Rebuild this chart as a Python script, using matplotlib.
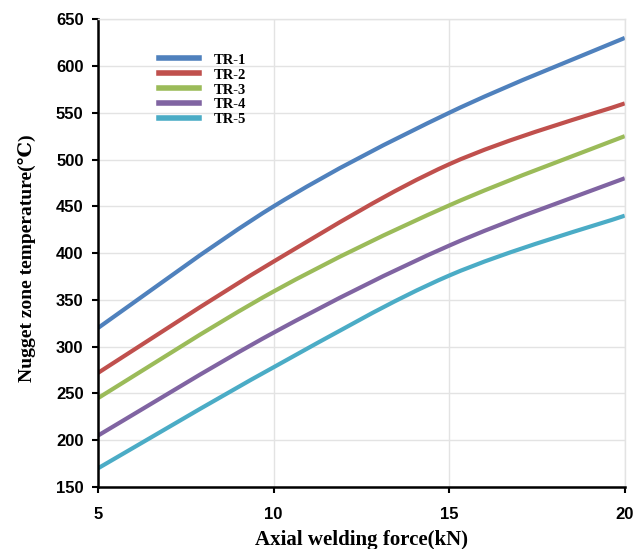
import numpy as np
import matplotlib.pyplot as plt
from matplotlib.path import Path
from matplotlib.patches import PathPatch
from matplotlib.lines import Line2D

# axial force (kN) and nugget zone temperature (deg C) for each tool rotation
force = [5, 10, 15, 20]
tr1 = [320, 450, 550, 630]
tr2 = [272, 391, 495, 560]
tr3 = [245, 359, 451, 525]
tr4 = [205, 315, 408, 480]
tr5 = [170, 278, 376, 440]

labels = ["TR-1", "TR-2", "TR-3", "TR-4", "TR-5"]
colors = ["#4F81BD", "#C0504D", "#9BBB59", "#8064A2", "#4BACC6"]


def smooth_path(x, y):
    """Smoothed line through the points (cubic Bezier, Catmull-Rom tangents)."""
    p = np.column_stack([x, y]).astype(float)
    ext = np.vstack([p[0], p, p[-1]])
    verts = [p[0]]
    codes = [Path.MOVETO]
    for i in range(len(p) - 1):
        p0, p1, p2, p3 = ext[i], ext[i + 1], ext[i + 2], ext[i + 3]
        verts += [p1 + (p2 - p0) / 6, p2 - (p3 - p1) / 6, p2]
        codes += [Path.CURVE4] * 3
    return Path(verts, codes)


fig = plt.figure(figsize=(6.33, 5.49), dpi=100)
ax = fig.add_axes([0.155, 0.113, 0.832, 0.852])

for ys, col in zip([tr1, tr2, tr3, tr4, tr5], colors):
    ax.add_patch(PathPatch(smooth_path(force, ys), fill=False, edgecolor=col,
                           lw=3, capstyle="butt"))

ax.set_xlim(5, 20)
ax.set_ylim(150, 650)
ax.set_xticks([5, 10, 15, 20])
ax.set_yticks(range(150, 651, 50))
ax.grid(True, color="#E3E3E3", lw=1)
ax.set_axisbelow(True)

for side in ["top", "right"]:
    ax.spines[side].set_color("#E3E3E3")
    ax.spines[side].set_linewidth(1)
for side in ["left", "bottom"]:
    ax.spines[side].set_color("black")
    ax.spines[side].set_linewidth(1.8)

ax.tick_params(direction="out", length=4.5, width=1.5, color="black")
ax.tick_params(axis="y", pad=6)
ax.tick_params(axis="x", pad=10)
for t in ax.get_xticklabels() + ax.get_yticklabels():
    t.set_fontfamily("Liberation Sans")
    t.set_fontweight("bold")
    t.set_fontsize(12)

serif = ["Liberation Serif", "DejaVu Serif"]
ax.set_xlabel("Axial welding force(kN)", family=serif, fontweight="bold",
              fontsize=15, labelpad=6)
ax.set_ylabel("Nugget zone temperature(℃)", family=serif, fontweight="bold",
              fontsize=14)
ax.yaxis.set_label_coords(-0.118, 0.49)

handles = [Line2D([], [], color=c, lw=4) for c in colors]
ax.legend(handles, labels, loc="upper left", bbox_to_anchor=(0.09, 0.955),
          frameon=False, handlelength=2.8, handletextpad=1.0,
          labelspacing=0.12,
          prop={"family": "Liberation Serif", "weight": "bold", "size": 10.5})

fig.savefig("out.png", dpi=100)
